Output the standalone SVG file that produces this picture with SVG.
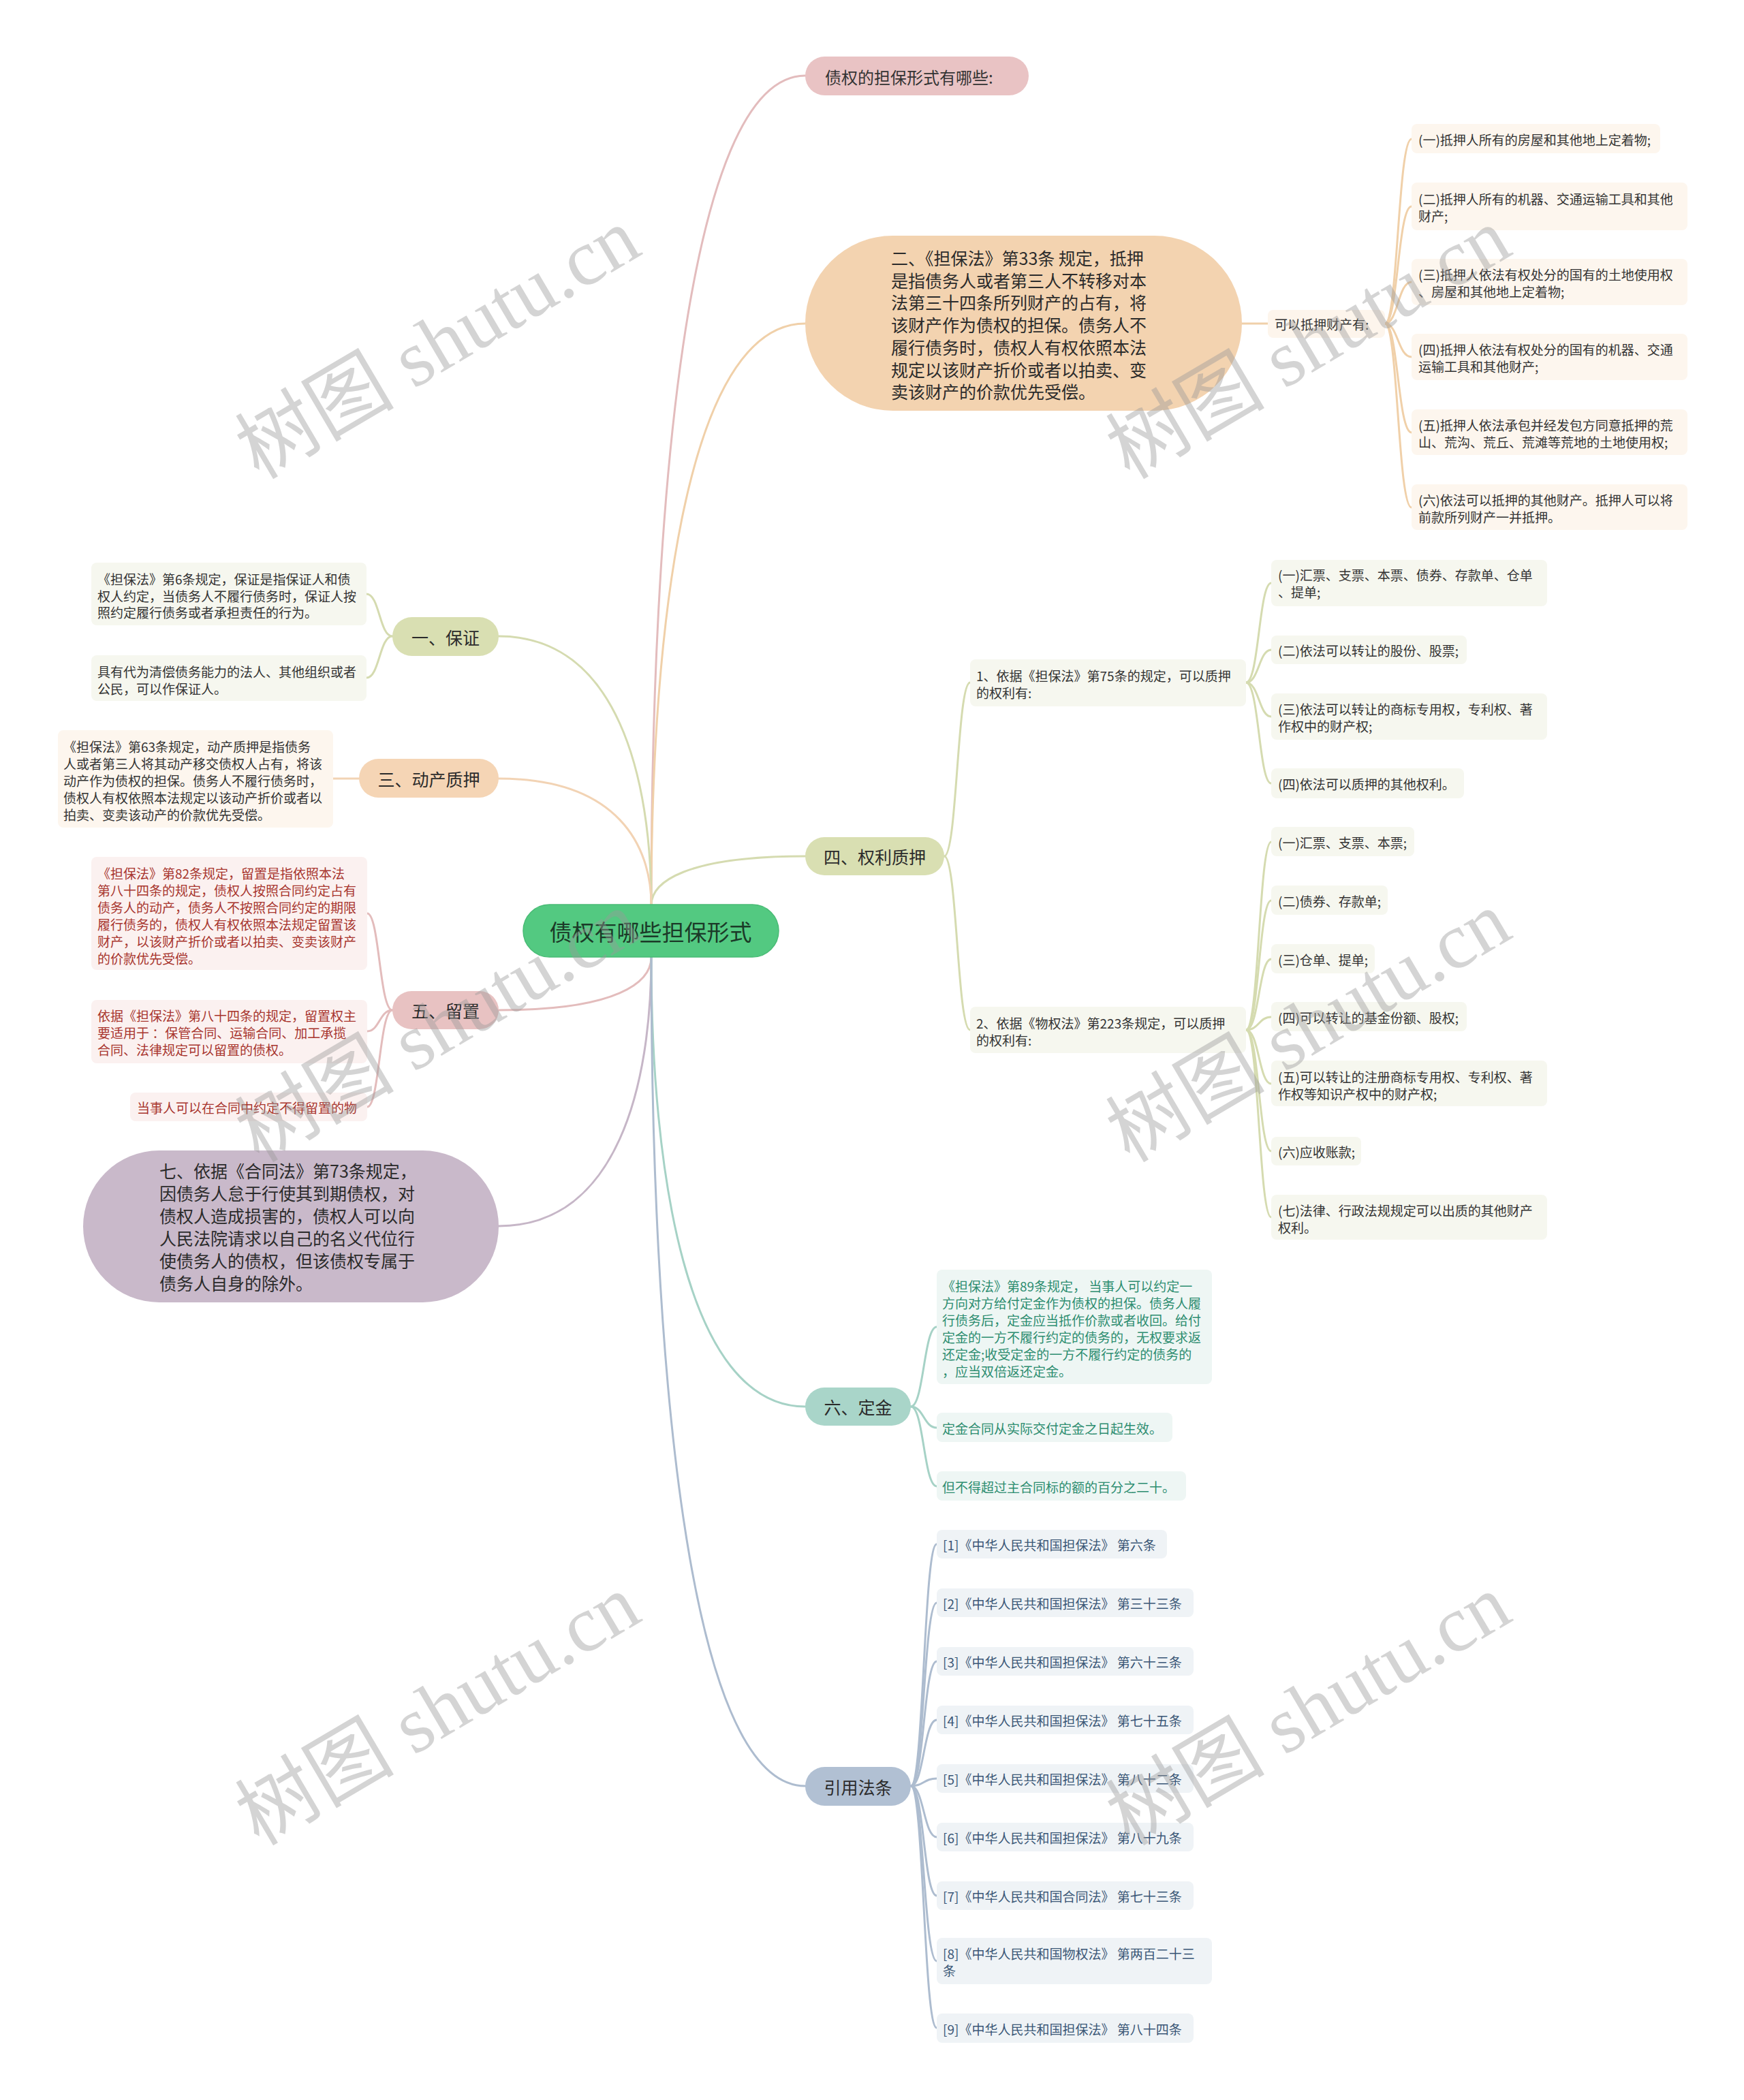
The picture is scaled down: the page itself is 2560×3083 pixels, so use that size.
<svg xmlns="http://www.w3.org/2000/svg" width="2560" height="3083" viewBox="0 0 2560 3083">
<style>
text{font-family:"Noto Sans CJK SC","Noto Sans",sans-serif;dominant-baseline:central;fill:#333}
.root-t{font-size:33px;fill:#1b3a28}
.l1{font-size:25px;fill:#2b2b2b}
.big{font-size:25px;fill:#2b2b2b}
.s{font-size:19px}
.red{fill:#a8352e}
.teal{fill:#2d8d70}
.blue{fill:#3b5777}
.c{fill:none;stroke-width:3;stroke-linecap:round}
.wm{font-family:"Liberation Serif","Noto Sans CJK SC",serif;font-size:117px;fill:#9a9a9a;opacity:0.42;dominant-baseline:auto}
</style>
<rect width="2560" height="3083" fill="#ffffff"/>
<g id="connectors">
<path class="c" stroke="#e3bcbd" d="M956,1329 C956,757 1006,111 1182,111"/>
<path class="c" stroke="#f0d0a9" d="M956,1329 C956,928 1006,475 1182,475"/>
<path class="c" stroke="#d5dbb0" d="M956,1329 C956,1295 1006,1257 1182,1257"/>
<path class="c" stroke="#d5dbb0" d="M956,1329 C956,1143 907,934 732,934"/>
<path class="c" stroke="#f2d3b4" d="M956,1329 C956,1242 907,1143 732,1143"/>
<path class="c" stroke="#e3bcbc" d="M956,1405 C956,1442 907,1483 732,1483"/>
<path class="c" stroke="#c6b6c7" d="M956,1405 C956,1591 907,1800 732,1800"/>
<path class="c" stroke="#a6d2c6" d="M956,1405 C956,1715 1006,2065 1182,2065"/>
<path class="c" stroke="#adbccf" d="M956,1405 C956,1977 1006,2622 1182,2622"/>
<g stroke="#f0d0a9" class="c">
<path d="M1823,475 H1861"/>
<path d="M2033,475 C2052,475 2052,204 2072,204"/>
<path d="M2033,475 C2052,475 2052,303 2072,303"/>
<path d="M2033,475 C2052,475 2052,414 2072,414"/>
<path d="M2033,475 C2052,475 2052,524 2072,524"/>
<path d="M2033,475 C2052,475 2052,635 2072,635"/>
<path d="M2033,475 C2052,475 2052,745 2072,745"/>
</g>
<g stroke="#d5dbb0" class="c">
<path d="M576,934 C557,934 557,872 538,872"/>
<path d="M576,934 C557,934 557,995 538,995"/>
</g>
<path class="c" stroke="#f2d3b4" d="M489,1143 H527"/>
<g stroke="#e3bcbc" class="c">
<path d="M576,1483 C557,1483 557,1341 539,1341"/>
<path d="M576,1483 C557,1483 557,1514 539,1514"/>
<path d="M576,1483 C557,1483 557,1625 539,1625"/>
</g>
<g stroke="#d5dbb0" class="c">
<path d="M1386,1257 C1405,1257 1405,1002 1424,1002"/>
<path d="M1386,1257 C1405,1257 1405,1512 1424,1512"/>
<path d="M1829,1002 C1848,1002 1848,856 1866,856"/>
<path d="M1829,1002 C1848,1002 1848,954 1866,954"/>
<path d="M1829,1002 C1848,1002 1848,1052 1866,1052"/>
<path d="M1829,1002 C1848,1002 1848,1150 1866,1150"/>
<path d="M1829,1512 C1848,1512 1848,1236 1866,1236"/>
<path d="M1829,1512 C1848,1512 1848,1322 1866,1322"/>
<path d="M1829,1512 C1848,1512 1848,1408 1866,1408"/>
<path d="M1829,1512 C1848,1512 1848,1493 1866,1493"/>
<path d="M1829,1512 C1848,1512 1848,1591 1866,1591"/>
<path d="M1829,1512 C1848,1512 1848,1690 1866,1690"/>
<path d="M1829,1512 C1848,1512 1848,1787 1866,1787"/>
</g>
<g stroke="#a6d2c6" class="c">
<path d="M1337,2065 C1356,2065 1356,1948 1375,1948"/>
<path d="M1337,2065 C1356,2065 1356,2096 1375,2096"/>
<path d="M1337,2065 C1356,2065 1356,2182 1375,2182"/>
</g>
<g stroke="#adbccf" class="c">
<path d="M1337,2622 C1356,2622 1356,2267 1375,2267"/>
<path d="M1337,2622 C1356,2622 1356,2353 1375,2353"/>
<path d="M1337,2622 C1356,2622 1356,2439 1375,2439"/>
<path d="M1337,2622 C1356,2622 1356,2525 1375,2525"/>
<path d="M1337,2622 C1356,2622 1356,2611 1375,2611"/>
<path d="M1337,2622 C1356,2622 1356,2697 1375,2697"/>
<path d="M1337,2622 C1356,2622 1356,2783 1375,2783"/>
<path d="M1337,2622 C1356,2622 1356,2879 1375,2879"/>
<path d="M1337,2622 C1356,2622 1356,2977 1375,2977"/>
</g>
</g>

<g id="node-root">
<rect x="768" y="1328" width="375" height="77" rx="38.5" fill="#53c981" stroke="#49bb75" stroke-width="1.5"/>
<text class="root-t" x="955" y="1367" text-anchor="middle">债权有哪些担保形式</text>
</g>

<g id="node-top">
<rect x="1182" y="83" width="328" height="57" rx="28.5" fill="#e9c3c4"/>
<text x="1211" y="112" style="font-size:24px">债权的担保形式有哪些:</text>
</g>

<g id="node-2">
<rect x="1182" y="346" width="641" height="257" rx="128.5" fill="#f3d3b0"/>
<text class="big"><tspan x="1308" y="378">二、《担保法》第33条 规定，抵押</tspan><tspan x="1308" y="410.7">是指债务人或者第三人不转移对本</tspan><tspan x="1308" y="443.4">法第三十四条所列财产的占有，将</tspan><tspan x="1308" y="476.1">该财产作为债权的担保。债务人不</tspan><tspan x="1308" y="508.8">履行债务时，债权人有权依照本法</tspan><tspan x="1308" y="541.5">规定以该财产折价或者以拍卖、变</tspan><tspan x="1308" y="574.2">卖该财产的价款优先受偿。</tspan></text>
</g>

<g id="node-2-sub">
<rect x="1861" y="455" width="172" height="41" rx="8" fill="#fdf5ec"/>
<text class="s" x="1871" y="475">可以抵押财产有:</text>
</g>
<g id="node-2-k1"><rect x="2072" y="182" width="365" height="43" rx="8" fill="#fdf6ee"/><text class="s" x="2082" y="204">(一)抵押人所有的房屋和其他地上定着物;</text></g>
<g id="node-2-k2"><rect x="2072" y="268" width="405" height="70" rx="8" fill="#fdf6ee"/><text class="s"><tspan x="2082" y="291">(二)抵押人所有的机器、交通运输工具和其他</tspan><tspan x="2082" y="315.5">财产;</tspan></text></g>
<g id="node-2-k3"><rect x="2072" y="380" width="405" height="68" rx="8" fill="#fdf6ee"/><text class="s"><tspan x="2082" y="402">(三)抵押人依法有权处分的国有的土地使用权</tspan><tspan x="2082" y="426.5">、房屋和其他地上定着物;</tspan></text></g>
<g id="node-2-k4"><rect x="2072" y="490" width="405" height="68" rx="8" fill="#fdf6ee"/><text class="s"><tspan x="2082" y="512">(四)抵押人依法有权处分的国有的机器、交通</tspan><tspan x="2082" y="536.5">运输工具和其他财产;</tspan></text></g>
<g id="node-2-k5"><rect x="2072" y="601" width="405" height="67" rx="8" fill="#fdf6ee"/><text class="s"><tspan x="2082" y="623">(五)抵押人依法承包并经发包方同意抵押的荒</tspan><tspan x="2082" y="647.5">山、荒沟、荒丘、荒滩等荒地的土地使用权;</tspan></text></g>
<g id="node-2-k6"><rect x="2072" y="711" width="405" height="67" rx="8" fill="#fdf6ee"/><text class="s"><tspan x="2082" y="733">(六)依法可以抵押的其他财产。抵押人可以将</tspan><tspan x="2082" y="757.5">前款所列财产一并抵押。</tspan></text></g>

<g id="node-1">
<rect x="576" y="906" width="156" height="57" rx="28.5" fill="#d9dfb2"/>
<text class="l1" x="654" y="934.5" text-anchor="middle">一、保证</text>
</g>
<g id="node-1-a"><rect x="134" y="826" width="404" height="92" rx="8" fill="#f6f7ef"/><text class="s"><tspan x="143" y="849">《担保法》第6条规定，保证是指保证人和债</tspan><tspan x="143" y="873.5">权人约定，当债务人不履行债务时，保证人按</tspan><tspan x="143" y="898">照约定履行债务或者承担责任的行为。</tspan></text></g>
<g id="node-1-b"><rect x="134" y="962" width="404" height="67" rx="8" fill="#f6f7ef"/><text class="s"><tspan x="143" y="985">具有代为清偿债务能力的法人、其他组织或者</tspan><tspan x="143" y="1009.5">公民，可以作保证人。</tspan></text></g>

<g id="node-3">
<rect x="527" y="1114" width="205" height="57" rx="28.5" fill="#f5d5b5"/>
<text class="l1" x="629.5" y="1142.5" text-anchor="middle">三、动产质押</text>
</g>
<g id="node-3-a"><rect x="85" y="1072" width="404" height="143" rx="8" fill="#fdf6ee"/><text class="s"><tspan x="93" y="1095">《担保法》第63条规定，动产质押是指债务</tspan><tspan x="93" y="1120">人或者第三人将其动产移交债权人占有，将该</tspan><tspan x="93" y="1145">动产作为债权的担保。债务人不履行债务时，</tspan><tspan x="93" y="1170">债权人有权依照本法规定以该动产折价或者以</tspan><tspan x="93" y="1195">拍卖、变卖该动产的价款优先受偿。</tspan></text></g>

<g id="node-5">
<rect x="576" y="1455" width="156" height="56" rx="28" fill="#e8c2c2"/>
<text class="l1" x="654" y="1483" text-anchor="middle">五、留置</text>
</g>
<g id="node-5-a"><rect x="134" y="1258" width="405" height="166" rx="8" fill="#fbf1f0"/><text class="s red"><tspan x="143" y="1281">《担保法》第82条规定，留置是指依照本法</tspan><tspan x="143" y="1306">第八十四条的规定，债权人按照合同约定占有</tspan><tspan x="143" y="1331">债务人的动产，债务人不按照合同约定的期限</tspan><tspan x="143" y="1356">履行债务的，债权人有权依照本法规定留置该</tspan><tspan x="143" y="1381">财产，以该财产折价或者以拍卖、变卖该财产</tspan><tspan x="143" y="1406">的价款优先受偿。</tspan></text></g>
<g id="node-5-b"><rect x="134" y="1468" width="405" height="93" rx="8" fill="#fbf1f0"/><text class="s red"><tspan x="143" y="1490">依据《担保法》第八十四条的规定，留置权主</tspan><tspan x="143" y="1515">要适用于 ：保管合同、运输合同、加工承揽</tspan><tspan x="143" y="1540">合同、法律规定可以留置的债权。</tspan></text></g>
<g id="node-5-c"><rect x="191" y="1604" width="348" height="42" rx="8" fill="#fbf1f0"/><text class="s red" x="201" y="1625">当事人可以在合同中约定不得留置的物</text></g>

<g id="node-7">
<rect x="122" y="1689" width="610" height="223" rx="111.5" fill="#c9b9ca"/>
<text class="big"><tspan x="234" y="1718">七、依据《合同法》第73条规定，</tspan><tspan x="234" y="1751">因债务人怠于行使其到期债权，对</tspan><tspan x="234" y="1784">债权人造成损害的，债权人可以向</tspan><tspan x="234" y="1817">人民法院请求以自己的名义代位行</tspan><tspan x="234" y="1850">使债务人的债权，但该债权专属于</tspan><tspan x="234" y="1883">债务人自身的除外。</tspan></text>
</g>

<g id="node-4">
<rect x="1182" y="1229" width="204" height="56" rx="28" fill="#d9dfb2"/>
<text class="l1" x="1284" y="1257" text-anchor="middle">四、权利质押</text>
</g>
<g id="node-4-1"><rect x="1424" y="968" width="405" height="69" rx="8" fill="#f6f7ef"/><text class="s"><tspan x="1433" y="991">1、依据《担保法》第75条的规定，可以质押</tspan><tspan x="1433" y="1015.5">的权利有:</tspan></text></g>
<g id="node-4-2"><rect x="1424" y="1478" width="405" height="68" rx="8" fill="#f6f7ef"/><text class="s"><tspan x="1433" y="1501">2、依据《物权法》第223条规定，可以质押</tspan><tspan x="1433" y="1525.5">的权利有:</tspan></text></g>
<g id="node-4-c1"><rect x="1866" y="822" width="405" height="68" rx="8" fill="#f6f7ef"/><text class="s"><tspan x="1876" y="843">(一)汇票、支票、本票、债券、存款单、仓单</tspan><tspan x="1876" y="867.5">、提单;</tspan></text></g>
<g id="node-4-c2"><rect x="1866" y="933" width="287" height="42" rx="8" fill="#f6f7ef"/><text class="s" x="1876" y="954">(二)依法可以转让的股份、股票;</text></g>
<g id="node-4-c3"><rect x="1866" y="1018" width="405" height="68" rx="8" fill="#f6f7ef"/><text class="s"><tspan x="1876" y="1040">(三)依法可以转让的商标专用权，专利权、著</tspan><tspan x="1876" y="1064.5">作权中的财产权;</tspan></text></g>
<g id="node-4-c4"><rect x="1866" y="1128" width="283" height="44" rx="8" fill="#f6f7ef"/><text class="s" x="1876" y="1150">(四)依法可以质押的其他权利。</text></g>
<g id="node-4-d1"><rect x="1866" y="1214" width="210" height="43" rx="8" fill="#f6f7ef"/><text class="s" x="1876" y="1236">(一)汇票、支票、本票;</text></g>
<g id="node-4-d2"><rect x="1866" y="1300" width="171" height="43" rx="8" fill="#f6f7ef"/><text class="s" x="1876" y="1322">(二)债券、存款单;</text></g>
<g id="node-4-d3"><rect x="1866" y="1386" width="152" height="43" rx="8" fill="#f6f7ef"/><text class="s" x="1876" y="1408">(三)仓单、提单;</text></g>
<g id="node-4-d4"><rect x="1866" y="1471" width="287" height="43" rx="8" fill="#f6f7ef"/><text class="s" x="1876" y="1493">(四)可以转让的基金份额、股权;</text></g>
<g id="node-4-d5"><rect x="1866" y="1557" width="405" height="67" rx="8" fill="#f6f7ef"/><text class="s"><tspan x="1876" y="1580">(五)可以转让的注册商标专用权、专利权、著</tspan><tspan x="1876" y="1604.5">作权等知识产权中的财产权;</tspan></text></g>
<g id="node-4-d6"><rect x="1866" y="1669" width="132" height="42" rx="8" fill="#f6f7ef"/><text class="s" x="1876" y="1690">(六)应收账款;</text></g>
<g id="node-4-d7"><rect x="1866" y="1754" width="405" height="66" rx="8" fill="#f6f7ef"/><text class="s"><tspan x="1876" y="1776">(七)法律、行政法规规定可以出质的其他财产</tspan><tspan x="1876" y="1800.5">权利。</tspan></text></g>

<g id="node-6">
<rect x="1182" y="2037" width="155" height="56" rx="28" fill="#a9d5c9"/>
<text class="l1" x="1259.5" y="2065" text-anchor="middle">六、定金</text>
</g>
<g id="node-6-a"><rect x="1375" y="1864" width="404" height="168" rx="8" fill="#eef6f4"/><text class="s teal"><tspan x="1383" y="1887">《担保法》第89条规定， 当事人可以约定一</tspan><tspan x="1383" y="1912">方向对方给付定金作为债权的担保。债务人履</tspan><tspan x="1383" y="1937">行债务后，定金应当抵作价款或者收回。给付</tspan><tspan x="1383" y="1962">定金的一方不履行约定的债务的，无权要求返</tspan><tspan x="1383" y="1987">还定金;收受定金的一方不履行约定的债务的</tspan><tspan x="1383" y="2012">，应当双倍返还定金。</tspan></text></g>
<g id="node-6-b"><rect x="1375" y="2074" width="346" height="43" rx="8" fill="#eef6f4"/><text class="s teal" x="1383" y="2096">定金合同从实际交付定金之日起生效。</text></g>
<g id="node-6-c"><rect x="1375" y="2160" width="366" height="43" rx="8" fill="#eef6f4"/><text class="s teal" x="1383" y="2182">但不得超过主合同标的额的百分之二十。</text></g>

<g id="node-ref">
<rect x="1182" y="2594" width="155" height="57" rx="28.5" fill="#b1c0d3"/>
<text class="l1" x="1259.5" y="2622.5" text-anchor="middle">引用法条</text>
</g>
<g id="node-ref-1"><rect x="1375" y="2246" width="338" height="42" rx="8" fill="#eff3f6"/><text class="s blue" x="1384" y="2267">[1]《中华人民共和国担保法》 第六条</text></g>
<g id="node-ref-2"><rect x="1375" y="2332" width="377" height="42" rx="8" fill="#eff3f6"/><text class="s blue" x="1384" y="2353">[2]《中华人民共和国担保法》 第三十三条</text></g>
<g id="node-ref-3"><rect x="1375" y="2418" width="377" height="42" rx="8" fill="#eff3f6"/><text class="s blue" x="1384" y="2439">[3]《中华人民共和国担保法》 第六十三条</text></g>
<g id="node-ref-4"><rect x="1375" y="2504" width="377" height="42" rx="8" fill="#eff3f6"/><text class="s blue" x="1384" y="2525">[4]《中华人民共和国担保法》 第七十五条</text></g>
<g id="node-ref-5"><rect x="1375" y="2590" width="377" height="42" rx="8" fill="#eff3f6"/><text class="s blue" x="1384" y="2611">[5]《中华人民共和国担保法》 第八十二条</text></g>
<g id="node-ref-6"><rect x="1375" y="2676" width="377" height="42" rx="8" fill="#eff3f6"/><text class="s blue" x="1384" y="2697">[6]《中华人民共和国担保法》 第八十九条</text></g>
<g id="node-ref-7"><rect x="1375" y="2762" width="377" height="42" rx="8" fill="#eff3f6"/><text class="s blue" x="1384" y="2783">[7]《中华人民共和国合同法》 第七十三条</text></g>
<g id="node-ref-8"><rect x="1375" y="2845" width="404" height="68" rx="8" fill="#eff3f6"/><text class="s blue"><tspan x="1384" y="2867">[8]《中华人民共和国物权法》 第两百二十三</tspan><tspan x="1384" y="2891.5">条</tspan></text></g>
<g id="node-ref-9"><rect x="1375" y="2956" width="377" height="43" rx="8" fill="#eff3f6"/><text class="s blue" x="1384" y="2978">[9]《中华人民共和国担保法》 第八十四条</text></g>

<g id="watermarks">
<text class="wm" transform="translate(380,705) rotate(-30.5)">树图 shutu.cn</text>
<text class="wm" transform="translate(1658,705) rotate(-30.5)">树图 shutu.cn</text>
<text class="wm" transform="translate(380,1708) rotate(-30.5)">树图 shutu.cn</text>
<text class="wm" transform="translate(1658,1708) rotate(-30.5)">树图 shutu.cn</text>
<text class="wm" transform="translate(380,2711) rotate(-30.5)">树图 shutu.cn</text>
<text class="wm" transform="translate(1658,2711) rotate(-30.5)">树图 shutu.cn</text>
</g>
</svg>
